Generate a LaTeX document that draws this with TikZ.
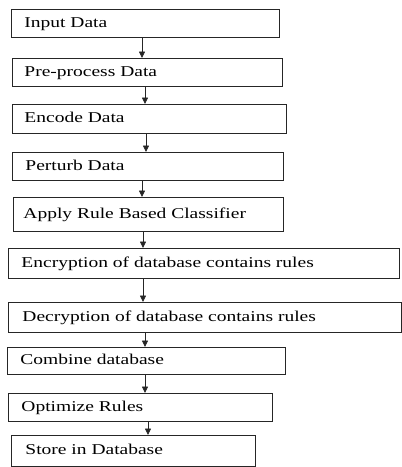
\documentclass[tikz,border=0pt]{standalone}
\usepackage{fontspec}
\setmainfont{Liberation Serif}
\usetikzlibrary{arrows.meta}

% One step of the flow: name, left, top, width, height, text indent, label
\newcommand\flowstep[7]{%
  \node[stepbox, minimum width=#4pt, minimum height=#5pt, anchor=north west]
    (#1) at (#2,#3)
    {\makebox[#4pt][l]{\hspace*{#6pt}\scalebox{1.3}[1]{#7}\strut}};%
}

\begin{document}
\begin{tikzpicture}[
    x=1pt, y=-1pt,
    stepbox/.style={draw=black!85, line width=0.9pt, inner xsep=0pt, inner ysep=0pt,
      font=\fontsize{15}{18}\selectfont},
    flowarrow/.style={draw=black!85, line width=0.8pt,
      -{Triangle[length=6.5pt,width=6pt]}}
  ]
  \useasboundingbox[fill=white] (0,0) rectangle (402,467);

  \flowstep{s1}{11}{9}{268}{28}{13}{Input Data}
  \flowstep{s2}{12}{58}{270}{28}{12}{Pre-process Data}
  \flowstep{s3}{12}{104}{274}{29}{12}{Encode Data}
  \flowstep{s4}{12}{152}{271}{28}{13}{Perturb Data}
  \flowstep{s5}{13}{197}{270}{34}{10}{Apply Rule Based Classifier}
  \flowstep{s6}{8}{248}{391}{30}{13}{Encryption of database contains rules}
  \flowstep{s7}{8}{302}{393}{30}{14}{Decryption of database contains rules}
  \flowstep{s8}{7}{347}{278}{27}{13}{Combine database}
  \flowstep{s9}{8}{393}{264}{28}{13}{Optimize Rules}
  \flowstep{s10}{11}{435}{244}{31}{14}{Store in Database}

  \draw[flowarrow] (142,0 |- s1.south) -- (142,0 |- s2.north);
  \draw[flowarrow] (145,0 |- s2.south) -- (145,0 |- s3.north);
  \draw[flowarrow] (146,0 |- s3.south) -- (146,0 |- s4.north);
  \draw[flowarrow] (142,0 |- s4.south) -- (142,0 |- s5.north);
  \draw[flowarrow] (143,0 |- s5.south) -- (143,0 |- s6.north);
  \draw[flowarrow] (143,0 |- s6.south) -- (143,0 |- s7.north);
  \draw[flowarrow] (145,0 |- s7.south) -- (145,0 |- s8.north);
  \draw[flowarrow] (145,0 |- s8.south) -- (145,0 |- s9.north);
  \draw[flowarrow] (148,0 |- s9.south) -- (148,0 |- s10.north);
\end{tikzpicture}
\end{document}
